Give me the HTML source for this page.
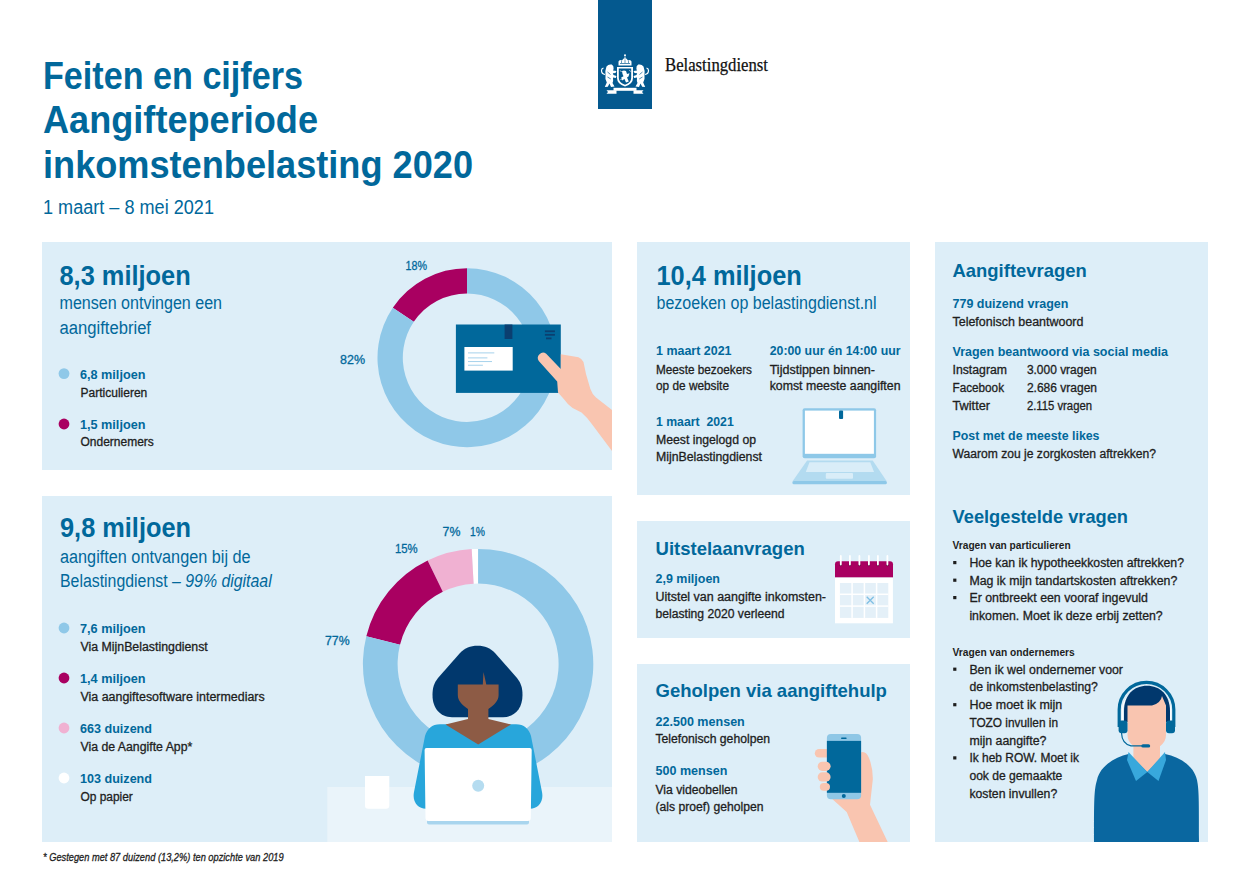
<!DOCTYPE html>
<html><head><meta charset="utf-8"><title>Feiten en cijfers</title>
<style>
html,body{margin:0;padding:0;background:#fff;width:1250px;height:884px;overflow:hidden}
svg{display:block}
text{font-family:"Liberation Sans",sans-serif}
</style></head><body>
<svg width="1250" height="884" viewBox="0 0 1250 884">
<rect x="42" y="242" width="570.00" height="228.00" fill="#ddeef8"/>
<rect x="42" y="496" width="570.00" height="346.00" fill="#ddeef8"/>
<rect x="637" y="242" width="273.00" height="253.00" fill="#ddeef8"/>
<rect x="637" y="521" width="273.00" height="117.00" fill="#ddeef8"/>
<rect x="637" y="664" width="273.00" height="178.00" fill="#ddeef8"/>
<rect x="935" y="242" width="273.00" height="600.00" fill="#ddeef8"/>
<rect x="598" y="0" width="54.00" height="109.00" fill="#04598f"/>
<circle cx="625" cy="55.3" r="1" fill="#ffffff"/>
<path d="M625,56.5 L625,58.5" stroke="#ffffff" stroke-width="0.9"/>
<path d="M618.5,65.5 L618.5,61.5 Q619.5,59 622,60.5 Q623.5,58 625,58.3 Q626.5,58 628,60.5 Q630.5,59 631.5,61.5 L631.5,65.5 Z" fill="#ffffff"/>
<path d="M620,63.5 L630,63.5" stroke="#04598f" stroke-width="0.7"/>
<path d="M621.5,60.8 L621.5,63 M625,59.5 L625,63 M628.5,60.8 L628.5,63" stroke="#04598f" stroke-width="0.6"/>
<path d="M617,67 L633,67 L633,78 Q633,84 625,86.5 Q617,84 617,78 Z" fill="#ffffff"/>
<path d="M618.8,68.6 L631.2,68.6 L631.2,77.8 Q631.2,82.6 625,84.7 Q618.8,82.6 618.8,77.8 Z" fill="#04598f"/>
<path d="M622,71 Q624,69.8 626,71 L627,74 L629.5,73.2 L628.5,76.5 L627,77.5 L628.8,81.5 L626,82.5 L624.5,79 L622,80.5 L621.2,77.5 L623.5,76.2 L622.5,74 Z" fill="#ffffff"/>
<path d="M620.3,70.5 L621.5,72 M629.5,70.2 L630.5,71.5 M620.5,80 L621.5,79" stroke="#ffffff" stroke-width="0.8"/>
<path d="M606.5,66.5 Q608.5,63.8 611.8,64.6 Q614,66 613.6,69 L613,70.5 L616.5,71 L615.5,73 L612.8,73.2 L613.5,75 L616.5,76 L615.8,78 L613,77.5 Q613.5,81 612.5,83 L614.5,86.5 L611,87 L609.5,83.5 L607.8,86.8 L604.8,87 L606.8,82.5 Q604.8,79 605.5,75 Q604.8,71 606.5,66.5 Z" fill="#ffffff"/>
<path d="M605,74.5 Q601.5,74 601.5,70.5 Q601.5,68.5 603.5,68" stroke="#ffffff" stroke-width="1.2" fill="none"/>
<path d="M607.5,72 L610.5,74.5 M607.5,77 L610.8,79" stroke="#04598f" stroke-width="0.7"/>
<g transform="translate(1250,0) scale(-1,1)">
<path d="M606.5,66.5 Q608.5,63.8 611.8,64.6 Q614,66 613.6,69 L613,70.5 L616.5,71 L615.5,73 L612.8,73.2 L613.5,75 L616.5,76 L615.8,78 L613,77.5 Q613.5,81 612.5,83 L614.5,86.5 L611,87 L609.5,83.5 L607.8,86.8 L604.8,87 L606.8,82.5 Q604.8,79 605.5,75 Q604.8,71 606.5,66.5 Z" fill="#ffffff"/>
<path d="M605,74.5 Q601.5,74 601.5,70.5 Q601.5,68.5 603.5,68" stroke="#ffffff" stroke-width="1.2" fill="none"/>
<path d="M607.5,72 L610.5,74.5 M607.5,77 L610.8,79" stroke="#04598f" stroke-width="0.7"/>
</g>
<path d="M613.5,87.8 L636.5,87.8 L636.5,90.8 L613.5,90.8 Z" fill="#ffffff"/>
<path d="M606.5,90.3 L616.5,90.3 L616.5,93.8 L606.5,93.8 L608,92 Z" fill="#ffffff"/>
<path d="M643.5,90.3 L633.5,90.3 L633.5,93.8 L643.5,93.8 L642,92 Z" fill="#ffffff"/>
<text x="665" y="71.3" font-size="18.5" fill="#111" style="font-family:&quot;Liberation Serif&quot;,serif" textLength="103.0" lengthAdjust="spacingAndGlyphs" stroke="#111" stroke-width="0.25">Belastingdienst</text>
<text x="43" y="88.8" font-size="38.5" font-weight="bold" fill="#01689b" textLength="260.0" lengthAdjust="spacingAndGlyphs">Feiten en cijfers</text>
<text x="43" y="133" font-size="38.5" font-weight="bold" fill="#01689b" textLength="275.0" lengthAdjust="spacingAndGlyphs">Aangifteperiode</text>
<text x="43" y="177.5" font-size="38.5" font-weight="bold" fill="#01689b" textLength="430.0" lengthAdjust="spacingAndGlyphs">inkomstenbelasting 2020</text>
<text x="43" y="213.8" font-size="19.5" fill="#01689b" textLength="171.0" lengthAdjust="spacingAndGlyphs">1 maart – 8 mei 2021</text>
<text x="59.5" y="284.6" font-size="28" font-weight="bold" fill="#01689b" textLength="131.2" lengthAdjust="spacingAndGlyphs">8,3 miljoen</text>
<text x="59.5" y="309.3" font-size="18" fill="#01689b" textLength="162.5" lengthAdjust="spacingAndGlyphs">mensen ontvingen een</text>
<text x="59.5" y="333.9" font-size="18" fill="#01689b" textLength="91.5" lengthAdjust="spacingAndGlyphs">aangiftebrief</text>
<circle cx="64" cy="373.6" r="5.4" fill="#8fc8e8"/>
<text x="80" y="378.7" font-size="13.4" font-weight="bold" fill="#01689b" textLength="65.4" lengthAdjust="spacingAndGlyphs">6,8 miljoen</text>
<text x="80.5" y="396.5" font-size="12" fill="#1e1e1e" stroke="#1e1e1e" stroke-width="0.3" textLength="66.8" lengthAdjust="spacingAndGlyphs">Particulieren</text>
<circle cx="64" cy="424" r="5.4" fill="#a90061"/>
<text x="80" y="428.7" font-size="13.4" font-weight="bold" fill="#01689b" textLength="65.4" lengthAdjust="spacingAndGlyphs">1,5 miljoen</text>
<text x="80.5" y="446.3" font-size="12" fill="#1e1e1e" stroke="#1e1e1e" stroke-width="0.3" textLength="73.3" lengthAdjust="spacingAndGlyphs">Ondernemers</text>
<path d="M467.00,268.20 A89.5,89.5 0 0 0 392.80,307.65 L413.78,321.80 A64.2,64.2 0 0 1 467.00,293.50 Z" fill="#a90061"/>
<path d="M392.80,307.65 A89.5,89.5 0 1 0 467.00,268.20 L467.00,293.50 A64.2,64.2 0 1 1 413.78,321.80 Z" fill="#8fc8e8"/>
<rect x="455.9" y="324.5" width="104.90" height="68.40" fill="#01689b"/>
<rect x="464.4" y="347" width="48.30" height="23.60" fill="#ffffff"/>
<rect x="468" y="352.45" width="26.30" height="0.90" fill="#9ccde9"/>
<rect x="468" y="357.45" width="19.40" height="0.90" fill="#9ccde9"/>
<rect x="468" y="361.15000000000003" width="24.00" height="0.90" fill="#9ccde9"/>
<rect x="468" y="364.75" width="14.90" height="0.90" fill="#9ccde9"/>
<rect x="504.6" y="324.5" width="7.80" height="14.50" fill="#0b3f70"/>
<rect x="544.9" y="330.40000000000003" width="10.00" height="1.80" fill="#0b3f70"/>
<rect x="544.9" y="333.90000000000003" width="10.00" height="1.80" fill="#0b3f70"/>
<rect x="546" y="337.5" width="5.50" height="1.80" fill="#0b3f70"/>
<path d="M560.8,354.3 L578.5,357.2 Q582.5,359 583.5,362 L586,374 L590.3,388.8 Q592,394 596,397.5 L612,410 L612,451 L591.8,424.1 Q587,417 581.5,412.4 L572.6,408 Q567,404 563.8,399.1 L558,392.5 L557.2,381.5 L538.8,360.9 A5.2,5.2 0 0 1 546.2,353.8 L560.8,369 Z" fill="#f9c5b0"/>
<text x="405.5" y="270" font-size="13" fill="#01689b" stroke="#01689b" stroke-width="0.3" textLength="21.5" lengthAdjust="spacingAndGlyphs">18%</text>
<text x="340" y="363.5" font-size="13" fill="#01689b" stroke="#01689b" stroke-width="0.3" textLength="25.0" lengthAdjust="spacingAndGlyphs">82%</text>
<text x="60" y="537" font-size="28" font-weight="bold" fill="#01689b" textLength="131.0" lengthAdjust="spacingAndGlyphs">9,8 miljoen</text>
<text x="60" y="562.8" font-size="18" fill="#01689b" textLength="190.6" lengthAdjust="spacingAndGlyphs">aangiften ontvangen bij de</text>
<text x="60" y="587" font-size="18" fill="#01689b" textLength="211.7" lengthAdjust="spacingAndGlyphs">Belastingdienst – <tspan font-style="italic">99% digitaal</tspan></text>
<circle cx="64" cy="628" r="5.4" fill="#8fc8e8"/>
<text x="80" y="632.9" font-size="13.4" font-weight="bold" fill="#01689b" textLength="65.6" lengthAdjust="spacingAndGlyphs">7,6 miljoen</text>
<text x="80.5" y="650.9" font-size="12" fill="#1e1e1e" stroke="#1e1e1e" stroke-width="0.3" textLength="127.3" lengthAdjust="spacingAndGlyphs">Via MijnBelastingdienst</text>
<circle cx="64" cy="678" r="5.4" fill="#a90061"/>
<text x="80" y="682.9" font-size="13.4" font-weight="bold" fill="#01689b" textLength="65.6" lengthAdjust="spacingAndGlyphs">1,4 miljoen</text>
<text x="80.5" y="700.9" font-size="12" fill="#1e1e1e" stroke="#1e1e1e" stroke-width="0.3" textLength="184.2" lengthAdjust="spacingAndGlyphs">Via aangiftesoftware intermediars</text>
<circle cx="64" cy="728" r="5.4" fill="#f0b1d2"/>
<text x="80" y="732.9" font-size="13.4" font-weight="bold" fill="#01689b" textLength="72.0" lengthAdjust="spacingAndGlyphs">663 duizend</text>
<text x="80.5" y="750.9" font-size="12" fill="#1e1e1e" stroke="#1e1e1e" stroke-width="0.3" textLength="111.8" lengthAdjust="spacingAndGlyphs">Via de Aangifte App*</text>
<circle cx="64" cy="778" r="5.4" fill="#ffffff"/>
<text x="80" y="782.9" font-size="13.4" font-weight="bold" fill="#01689b" textLength="72.0" lengthAdjust="spacingAndGlyphs">103 duizend</text>
<text x="80.5" y="800.9" font-size="12" fill="#1e1e1e" stroke="#1e1e1e" stroke-width="0.3" textLength="52.3" lengthAdjust="spacingAndGlyphs">Op papier</text>
<path d="M478.10,548.90 A115.2,115.2 0 0 0 471.67,549.08 L473.61,583.73 A80.5,80.5 0 0 1 478.10,583.60 Z" fill="#ffffff"/>
<path d="M471.67,549.08 A115.2,115.2 0 0 0 427.60,560.56 L442.81,591.75 A80.5,80.5 0 0 1 473.61,583.73 Z" fill="#f0b1d2"/>
<path d="M427.60,560.56 A115.2,115.2 0 0 0 366.32,636.23 L399.99,644.63 A80.5,80.5 0 0 1 442.81,591.75 Z" fill="#a90061"/>
<path d="M366.32,636.23 A115.2,115.2 0 1 0 478.10,548.90 L478.10,583.60 A80.5,80.5 0 1 1 399.99,644.63 Z" fill="#8fc8e8"/>
<rect x="327.3" y="787" width="284.70" height="55.00" fill="#eaf4fa"/>
<path d="M365,776 L389.3,776 L389.3,805.5 Q389.3,808.8 386,808.8 L368.3,808.8 Q365,808.8 365,805.5 Z" fill="#ffffff"/>
<path d="M477.6,645.7 C485,645.7 490,648 495,653 L517,678 C521,683 522.5,688 522.5,695 C522.5,708 515,717.2 503,717.2 L452,717.2 C440,717.2 432.5,708 432.5,695 C432.5,688 434,683 438,678 L460,653 C465,648 470,645.7 477.6,645.7 Z" fill="#01386d"/>
<path d="M457.8,684.4 L482.8,684.4 L483.5,672 L486.3,684.4 L498.6,684.4 L498.6,695 C498.6,701 494,705 488.4,709 L488.4,726 L468,726 L468,709 C462.4,705 457.8,701 457.8,695 Z" fill="#8d5b45"/>
<path d="M440,724.3 L516,724.3 C524,724.3 529,729 531,736 L542,792 C544,802 538,808.8 530,808.8 L426,808.8 C418,808.8 412,802 414,792 L425,736 C427,729 432,724.3 440,724.3 Z" fill="#28a6db"/>
<path d="M445.5,724.5 L468,719 L488.4,719 L511,724.5 L478.2,744.4 Z" fill="#8d5b45"/>
<rect x="427" y="819" width="102.00" height="5.60" fill="#a9d5ee" rx="2"/>
<path d="M426.5,748 L529.8,748 Q531.7,748 531.7,750 L530.8,818 Q530.8,821 527.8,821 L428.5,821 Q425.5,821 425.5,818 L424.6,750 Q424.6,748 426.5,748 Z" fill="#ffffff"/>
<circle cx="478.2" cy="785.7" r="6" fill="#b5dcf0"/>
<text x="395" y="553.4" font-size="13" fill="#01689b" stroke="#01689b" stroke-width="0.3" textLength="22.7" lengthAdjust="spacingAndGlyphs">15%</text>
<text x="442.6" y="535.6" font-size="13" fill="#01689b" stroke="#01689b" stroke-width="0.3" textLength="17.8" lengthAdjust="spacingAndGlyphs">7%</text>
<text x="470" y="535.6" font-size="13" fill="#01689b" stroke="#01689b" stroke-width="0.3" textLength="15.0" lengthAdjust="spacingAndGlyphs">1%</text>
<text x="325" y="644.5" font-size="13" fill="#01689b" stroke="#01689b" stroke-width="0.3" textLength="24.6" lengthAdjust="spacingAndGlyphs">77%</text>
<text x="43" y="861" font-size="11" font-style="italic" fill="#1e1e1e" stroke="#1e1e1e" stroke-width="0.3" textLength="240.6" lengthAdjust="spacingAndGlyphs">* Gestegen met 87 duizend (13,2%) ten opzichte van 2019</text>
<text x="656.5" y="285" font-size="28" font-weight="bold" fill="#01689b" textLength="145.3" lengthAdjust="spacingAndGlyphs">10,4 miljoen</text>
<text x="656.5" y="308.8" font-size="18" fill="#01689b" textLength="220.1" lengthAdjust="spacingAndGlyphs">bezoeken op belastingdienst.nl</text>
<text x="656" y="355" font-size="13.4" font-weight="bold" fill="#01689b" textLength="75.5" lengthAdjust="spacingAndGlyphs">1 maart 2021</text>
<text x="656" y="373.6" font-size="12" fill="#1e1e1e" stroke="#1e1e1e" stroke-width="0.3" textLength="96.0" lengthAdjust="spacingAndGlyphs">Meeste bezoekers</text>
<text x="656" y="390.4" font-size="12" fill="#1e1e1e" stroke="#1e1e1e" stroke-width="0.3" textLength="73.0" lengthAdjust="spacingAndGlyphs">op de website</text>
<text x="769.7" y="355" font-size="13.4" font-weight="bold" fill="#01689b" textLength="130.8" lengthAdjust="spacingAndGlyphs">20:00 uur én 14:00 uur</text>
<text x="769.7" y="373.6" font-size="12" fill="#1e1e1e" stroke="#1e1e1e" stroke-width="0.3" textLength="105.3" lengthAdjust="spacingAndGlyphs">Tijdstippen binnen-</text>
<text x="769.7" y="390.4" font-size="12" fill="#1e1e1e" stroke="#1e1e1e" stroke-width="0.3" textLength="130.8" lengthAdjust="spacingAndGlyphs">komst meeste aangiften</text>
<rect x="802.6" y="408.3" width="73.50" height="50.00" fill="#8ec8e8" rx="2"/>
<rect x="804.9" y="410.6" width="69.00" height="43.20" fill="#ffffff"/>
<rect x="839" y="410.6" width="4.10" height="8.40" fill="#01689b" rx="1"/>
<path d="M807.1,460.6 L872.7,460.6 L886.9,481.5 L792.4,481.5 Z" fill="#b3dbf0"/>
<rect x="792.4" y="481" width="94.50" height="3.30" fill="#8ec8e8" rx="1.5"/>
<path d="M809.5,462.3 L870.3,462.3 L874,471.9 L805.8,471.9 Z" fill="#d9edf8"/>
<rect x="825.8" y="473" width="27.20" height="5.70" fill="#d9edf8" rx="1"/>
<text x="656" y="425.5" font-size="13.4" font-weight="bold" fill="#01689b" textLength="77.7" lengthAdjust="spacingAndGlyphs" xml:space="preserve">1 maart  2021</text>
<text x="656" y="443.9" font-size="12" fill="#1e1e1e" stroke="#1e1e1e" stroke-width="0.3" textLength="100.0" lengthAdjust="spacingAndGlyphs">Meest ingelogd op</text>
<text x="656" y="460.7" font-size="12" fill="#1e1e1e" stroke="#1e1e1e" stroke-width="0.3" textLength="106.0" lengthAdjust="spacingAndGlyphs">MijnBelastingdienst</text>
<text x="655.5" y="554.7" font-size="19" font-weight="bold" fill="#01689b" textLength="149.3" lengthAdjust="spacingAndGlyphs">Uitstelaanvragen</text>
<text x="655.5" y="582.8" font-size="13.4" font-weight="bold" fill="#01689b" textLength="64.5" lengthAdjust="spacingAndGlyphs">2,9 miljoen</text>
<text x="655.5" y="600.8" font-size="12" fill="#1e1e1e" stroke="#1e1e1e" stroke-width="0.3" textLength="170.5" lengthAdjust="spacingAndGlyphs">Uitstel van aangifte inkomsten-</text>
<path d="M835,577.6 L835,564.3 Q835,561.3 838,561.3 L890,561.3 Q893,561.3 893,564.3 L893,577.6 Z" fill="#a90061"/>
<rect x="835" y="577.6" width="57.90" height="45.70" fill="#ffffff"/>
<rect x="839.9" y="583" width="48.40" height="34.90" fill="#e4f0f8"/>
<rect x="851.35" y="583" width="1.50" height="34.90" fill="#ffffff"/>
<rect x="863.65" y="583" width="1.50" height="34.90" fill="#ffffff"/>
<rect x="875.85" y="583" width="1.50" height="34.90" fill="#ffffff"/>
<rect x="839.9" y="593.55" width="48.40" height="1.50" fill="#ffffff"/>
<rect x="839.9" y="605.35" width="48.40" height="1.50" fill="#ffffff"/>
<path d="M866.7,596.7 L873.7,603.7 M873.7,596.7 L866.7,603.7" stroke="#7fbfe3" stroke-width="1.3" fill="none"/>
<circle cx="840.8" cy="565" r="1.3" fill="#5a0a3a"/>
<path d="M840.8,556 L840.8,564.5" stroke="#ffffff" stroke-width="1.8" stroke-linecap="round"/>
<circle cx="849.9" cy="565" r="1.3" fill="#5a0a3a"/>
<path d="M849.9,556 L849.9,564.5" stroke="#ffffff" stroke-width="1.8" stroke-linecap="round"/>
<circle cx="859.4" cy="565" r="1.3" fill="#5a0a3a"/>
<path d="M859.4,556 L859.4,564.5" stroke="#ffffff" stroke-width="1.8" stroke-linecap="round"/>
<circle cx="868.9" cy="565" r="1.3" fill="#5a0a3a"/>
<path d="M868.9,556 L868.9,564.5" stroke="#ffffff" stroke-width="1.8" stroke-linecap="round"/>
<circle cx="877.9" cy="565" r="1.3" fill="#5a0a3a"/>
<path d="M877.9,556 L877.9,564.5" stroke="#ffffff" stroke-width="1.8" stroke-linecap="round"/>
<circle cx="887.4" cy="565" r="1.3" fill="#5a0a3a"/>
<path d="M887.4,556 L887.4,564.5" stroke="#ffffff" stroke-width="1.8" stroke-linecap="round"/>
<text x="655.5" y="618" font-size="12" fill="#1e1e1e" stroke="#1e1e1e" stroke-width="0.3" textLength="128.9" lengthAdjust="spacingAndGlyphs">belasting 2020 verleend</text>
<text x="655.5" y="696.8" font-size="19" font-weight="bold" fill="#01689b" textLength="231.4" lengthAdjust="spacingAndGlyphs">Geholpen via aangiftehulp</text>
<text x="655.5" y="725.6" font-size="13.4" font-weight="bold" fill="#01689b" textLength="89.3" lengthAdjust="spacingAndGlyphs">22.500 mensen</text>
<text x="655.5" y="743" font-size="12" fill="#1e1e1e" stroke="#1e1e1e" stroke-width="0.3" textLength="114.5" lengthAdjust="spacingAndGlyphs">Telefonisch geholpen</text>
<text x="655.5" y="775.3" font-size="13.4" font-weight="bold" fill="#01689b" textLength="71.8" lengthAdjust="spacingAndGlyphs">500 mensen</text>
<text x="655.5" y="793.5" font-size="12" fill="#1e1e1e" stroke="#1e1e1e" stroke-width="0.3" textLength="82.1" lengthAdjust="spacingAndGlyphs">Via videobellen</text>
<rect x="814.8" y="749" width="27.20" height="8.50" fill="#f9c5b0" rx="4.25"/>
<path d="M830,752 L860,752.5 Q866,750 869,758 Q873,768 872.8,779.4 L870,804.8 L887.7,842 L859.4,842 L846.7,811.9 L832.5,799.2 L830,790 Z" fill="#f9c5b0"/>
<rect x="826.9" y="734.1" width="34.20" height="65.10" fill="#8fc7e6" rx="4"/>
<rect x="826.9" y="740.9" width="34.20" height="51.90" fill="#01689b"/>
<rect x="841" y="737.4" width="5.70" height="1.60" fill="#01689b" rx="0.8"/>
<circle cx="843.8" cy="795.9" r="2" fill="#01689b"/>
<rect x="817.7" y="761.7" width="12.90" height="9.20" fill="#f9c5b0" rx="4.599999999999966"/>
<rect x="817.7" y="772.3" width="12.90" height="9.20" fill="#f9c5b0" rx="4.600000000000023"/>
<rect x="819.8" y="782.9" width="10.20" height="7.80" fill="#f9c5b0" rx="3.900000000000034"/>
<text x="655.5" y="811.3" font-size="12" fill="#1e1e1e" stroke="#1e1e1e" stroke-width="0.3" textLength="108.0" lengthAdjust="spacingAndGlyphs">(als proef) geholpen</text>
<text x="952.5" y="276.8" font-size="19" font-weight="bold" fill="#01689b" textLength="134.3" lengthAdjust="spacingAndGlyphs">Aangiftevragen</text>
<text x="952.5" y="307.7" font-size="13.4" font-weight="bold" fill="#01689b" textLength="115.9" lengthAdjust="spacingAndGlyphs">779 duizend vragen</text>
<text x="952.5" y="325.6" font-size="12" fill="#1e1e1e" stroke="#1e1e1e" stroke-width="0.3" textLength="130.9" lengthAdjust="spacingAndGlyphs">Telefonisch beantwoord</text>
<text x="952.5" y="355.8" font-size="13.4" font-weight="bold" fill="#01689b" textLength="215.5" lengthAdjust="spacingAndGlyphs">Vragen beantwoord via social media</text>
<text x="952.5" y="374.2" font-size="12" fill="#1e1e1e" stroke="#1e1e1e" stroke-width="0.3" textLength="54.5" lengthAdjust="spacingAndGlyphs">Instagram</text>
<text x="1026.9" y="374.2" font-size="12" fill="#1e1e1e" stroke="#1e1e1e" stroke-width="0.3" textLength="69.8" lengthAdjust="spacingAndGlyphs">3.000 vragen</text>
<text x="952.5" y="391.7" font-size="12" fill="#1e1e1e" stroke="#1e1e1e" stroke-width="0.3" textLength="51.5" lengthAdjust="spacingAndGlyphs">Facebook</text>
<text x="1026.9" y="391.7" font-size="12" fill="#1e1e1e" stroke="#1e1e1e" stroke-width="0.3" textLength="70.1" lengthAdjust="spacingAndGlyphs">2.686 vragen</text>
<text x="952.5" y="409.5" font-size="12" fill="#1e1e1e" stroke="#1e1e1e" stroke-width="0.3" textLength="37.5" lengthAdjust="spacingAndGlyphs">Twitter</text>
<text x="1026.9" y="409.5" font-size="12" fill="#1e1e1e" stroke="#1e1e1e" stroke-width="0.3" textLength="65.1" lengthAdjust="spacingAndGlyphs">2.115 vragen</text>
<text x="952.5" y="439.8" font-size="13.4" font-weight="bold" fill="#01689b" textLength="147.0" lengthAdjust="spacingAndGlyphs">Post met de meeste likes</text>
<text x="952.5" y="457.6" font-size="12" fill="#1e1e1e" stroke="#1e1e1e" stroke-width="0.3" textLength="203.5" lengthAdjust="spacingAndGlyphs">Waarom zou je zorgkosten aftrekken?</text>
<text x="952.6" y="523" font-size="19" font-weight="bold" fill="#01689b" textLength="175.4" lengthAdjust="spacingAndGlyphs">Veelgestelde vragen</text>
<text x="952.6" y="548.6" font-size="11" font-weight="bold" fill="#1e1e1e" textLength="118.0" lengthAdjust="spacingAndGlyphs">Vragen van particulieren</text>
<text x="969.4" y="567" font-size="12" fill="#1e1e1e" stroke="#1e1e1e" stroke-width="0.3" textLength="214.6" lengthAdjust="spacingAndGlyphs">Hoe kan ik hypotheekkosten aftrekken?</text>
<rect x="953.2" y="561" width="3.20" height="3.20" fill="#1e1e1e"/>
<text x="969.4" y="584.6" font-size="12" fill="#1e1e1e" stroke="#1e1e1e" stroke-width="0.3" textLength="207.9" lengthAdjust="spacingAndGlyphs">Mag ik mijn tandartskosten aftrekken?</text>
<rect x="953.2" y="578.6" width="3.20" height="3.20" fill="#1e1e1e"/>
<text x="969.4" y="602" font-size="12" fill="#1e1e1e" stroke="#1e1e1e" stroke-width="0.3" textLength="178.6" lengthAdjust="spacingAndGlyphs">Er ontbreekt een vooraf ingevuld</text>
<rect x="953.2" y="596" width="3.20" height="3.20" fill="#1e1e1e"/>
<text x="969.4" y="619.7" font-size="12" fill="#1e1e1e" stroke="#1e1e1e" stroke-width="0.3" textLength="193.3" lengthAdjust="spacingAndGlyphs">inkomen. Moet ik deze erbij zetten?</text>
<text x="969.4" y="673.6" font-size="12" fill="#1e1e1e" stroke="#1e1e1e" stroke-width="0.3" textLength="153.6" lengthAdjust="spacingAndGlyphs">Ben ik wel ondernemer voor</text>
<rect x="953.2" y="667.6" width="3.20" height="3.20" fill="#1e1e1e"/>
<text x="969.4" y="691.4" font-size="12" fill="#1e1e1e" stroke="#1e1e1e" stroke-width="0.3" textLength="128.4" lengthAdjust="spacingAndGlyphs">de inkomstenbelasting?</text>
<text x="969.4" y="709.1" font-size="12" fill="#1e1e1e" stroke="#1e1e1e" stroke-width="0.3" textLength="92.9" lengthAdjust="spacingAndGlyphs">Hoe moet ik mijn</text>
<rect x="953.2" y="703.1" width="3.20" height="3.20" fill="#1e1e1e"/>
<text x="969.4" y="726.8" font-size="12" fill="#1e1e1e" stroke="#1e1e1e" stroke-width="0.3" textLength="88.6" lengthAdjust="spacingAndGlyphs">TOZO invullen in</text>
<text x="969.4" y="744.6" font-size="12" fill="#1e1e1e" stroke="#1e1e1e" stroke-width="0.3" textLength="77.0" lengthAdjust="spacingAndGlyphs">mijn aangifte?</text>
<text x="969.4" y="762.3" font-size="12" fill="#1e1e1e" stroke="#1e1e1e" stroke-width="0.3" textLength="109.6" lengthAdjust="spacingAndGlyphs">Ik heb ROW. Moet ik</text>
<rect x="953.2" y="756.3" width="3.20" height="3.20" fill="#1e1e1e"/>
<text x="969.4" y="780" font-size="12" fill="#1e1e1e" stroke="#1e1e1e" stroke-width="0.3" textLength="92.9" lengthAdjust="spacingAndGlyphs">ook de gemaakte</text>
<text x="969.4" y="797.8" font-size="12" fill="#1e1e1e" stroke="#1e1e1e" stroke-width="0.3" textLength="87.8" lengthAdjust="spacingAndGlyphs">kosten invullen?</text>
<path d="M1133.4,738 L1160,738 L1160,760 L1147.3,772 L1133.4,760 Z" fill="#f9c5b0"/>
<path d="M1128.5,754 L1147.3,772 L1165,754 C1180,757 1194,766 1197,780 C1199,790 1199,800 1199,842 L1094,842 C1094,800 1094,790 1097,780 C1100,766 1115,757 1128.5,754 Z" fill="#0a67a0"/>
<path d="M1128.5,752 L1147.3,772 L1136,781 L1127,760 Z" fill="#38a8dc"/>
<path d="M1165,752 L1147.3,772 L1158.5,781 L1166,760 Z" fill="#38a8dc"/>
<path d="M1119.2,727 L1119.2,709.6 A27.3,27.3 0 0 1 1173.8,709.6 L1173.8,727" stroke="#01689b" stroke-width="3.2" fill="none"/>
<path d="M1122.3,724 L1122.3,710 A24.3,24.3 0 0 1 1170.7,710 L1170.7,724" stroke="#ffffff" stroke-width="1.2" fill="none"/>
<path d="M1124,722 L1124,711 C1124,695 1134,685.8 1147,685.8 C1160,685.8 1170,695 1170,711 L1170,722 Z" fill="#01386d"/>
<path d="M1127.5,705.6 L1152,705.6 Q1161,703 1162,696 L1166,705.6 L1166,735 C1166,744 1158,749.5 1147,749.5 C1136,749.5 1127.5,744 1127.5,735 Z" fill="#f9c5b0"/>
<rect x="1118.6" y="720.5" width="8.90" height="12.80" fill="#01689b" rx="3"/>
<rect x="1166" y="720.5" width="9.00" height="12.80" fill="#01689b" rx="3"/>
<path d="M1121.5,733 Q1122,744 1131,745.8 L1142,745.8" stroke="#01689b" stroke-width="1.2" fill="none"/>
<rect x="1141.3" y="744.2" width="8.90" height="3.40" fill="#01689b" rx="1.7"/>
<text x="952.6" y="655.5" font-size="11" font-weight="bold" fill="#1e1e1e" textLength="122.2" lengthAdjust="spacingAndGlyphs">Vragen van ondernemers</text>
</svg>
</body></html>
